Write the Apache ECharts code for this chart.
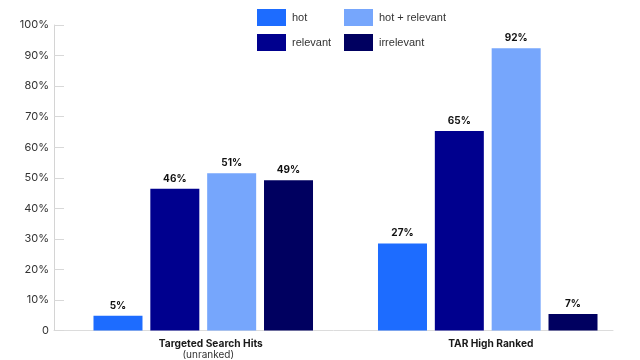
<!DOCTYPE html>
<html>
<head>
<meta charset="utf-8">
<script src="https://cdn.jsdelivr.net/npm/echarts@6/dist/echarts.min.js"></script>
<style>html,body{margin:0;padding:0;background:#fff;}#c{width:640px;height:360px;}</style>
</head>
<body>
<div id="c"></div>
<script>
var categories = ['Targeted Search Hits', 'TAR High Ranked'];
var categorySub = ['(unranked)', ''];
var seriesNames = ['hot', 'relevant', 'hot + relevant', 'irrelevant'];
var hotValues = [4.8, 28.5];
var relevantValues = [46.4, 65.3];
var hotRelevantValues = [51.5, 92.4];
var irrelevantValues = [49.2, 5.4];
var hotLabels = ['5%', '27%'];
var relevantLabels = ['46%', '65%'];
var hotRelevantLabels = ['51%', '92%'];
var irrelevantLabels = ['49%', '7%'];
var yTicks = [0, 10, 20, 30, 40, 50, 60, 70, 80, 90, 100];

var colors = {'hot': '#1d6cff', 'relevant': '#00008e', 'hot + relevant': '#76a6fc', 'irrelevant': '#000060'};
var FONT = 'Inter, "Noto Sans", sans-serif';

function mkSeries(name, values, labels) {
  return {
    name: name, type: 'bar', xAxisIndex: 0, yAxisIndex: 0,
    data: values, barWidth: 49, barGap: '16%',
    itemStyle: {color: colors[name]},
    label: {
      show: true, position: 'top', distance: 5,
      formatter: function (p) { return labels[p.dataIndex]; },
      fontFamily: FONT, fontSize: 10, fontWeight: 'bold', color: '#111'
    }
  };
}

function mkLegend(name, left, top) {
  return {
    data: [name], left: left, top: top, padding: 0, orient: 'horizontal',
    icon: 'rect', itemWidth: 29, itemHeight: 17,
    textStyle: {fontFamily: '"Liberation Sans", Arial, sans-serif', fontSize: 11, color: '#333', padding: [0, 0, 0, 1]}
  };
}

var chart = echarts.init(document.getElementById('c'), null, {renderer: 'canvas'});
chart.setOption({
  animation: false,
  backgroundColor: '#fff',
  legend: [
    mkLegend('hot', 257, 9),
    mkLegend('hot + relevant', 344, 9),
    mkLegend('relevant', 257, 34),
    mkLegend('irrelevant', 344, 34)
  ],
  grid: [
    {left: 61, right: 10, top: 25, bottom: 29.5},
    {left: 54, right: 27, top: 25, bottom: 29.5}
  ],
  xAxis: [
    {
      type: 'category', gridIndex: 0, data: categories,
      axisLine: {show: false}, axisTick: {show: false},
      axisLabel: {
        margin: 7, interval: 0,
        formatter: function (v, i) {
          return i === 0 ? '{b0|' + v + '}\n{n0|' + categorySub[i] + '}' : '{b1|' + v + '}';
        },
        rich: {
          b0: {fontFamily: FONT, fontSize: 10.2, fontWeight: 'bold', color: '#1a1a1a', lineHeight: 12, padding: [0, 0, 0, 15]},
          n0: {fontFamily: FONT, fontSize: 10, color: '#333', lineHeight: 11, padding: [0, 0, 0, 10]},
          b1: {fontFamily: FONT, fontSize: 10.2, fontWeight: 'bold', color: '#1a1a1a', lineHeight: 12, padding: [0, 0, 0, 6]}
        }
      }
    },
    {
      type: 'value', gridIndex: 1, min: 0, max: 1,
      axisLine: {show: true, lineStyle: {color: '#dcdcdc', width: 1}},
      axisTick: {show: false}, axisLabel: {show: false}, splitLine: {show: false}
    }
  ],
  yAxis: [
    {
      type: 'value', gridIndex: 0, min: 0, max: 100, interval: 10, offset: 7,
      axisLine: {show: true, lineStyle: {color: '#d4d4d4'}},
      axisTick: {show: true, inside: true, length: 10, lineStyle: {color: '#d8d8d8'}},
      splitLine: {show: false},
      axisLabel: {
        margin: 5, fontFamily: FONT, fontSize: 11, color: '#333',
        customValues: yTicks,
        formatter: function (v) { return v === 0 ? '0' : v + '%'; }
      }
    },
    {type: 'value', gridIndex: 1, show: false}
  ],
  series: [
    mkSeries('hot', hotValues, hotLabels),
    mkSeries('relevant', relevantValues, relevantLabels),
    mkSeries('hot + relevant', hotRelevantValues, hotRelevantLabels),
    mkSeries('irrelevant', irrelevantValues, irrelevantLabels)
  ]
});
</script>
</body>
</html>
